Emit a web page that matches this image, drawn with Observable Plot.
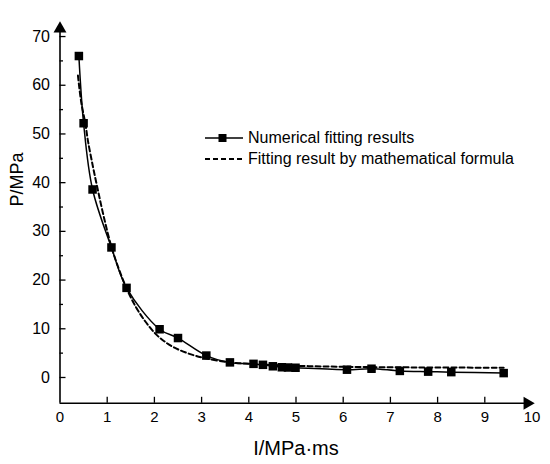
<!DOCTYPE html>
<html><head><meta charset="utf-8">
<script src="https://cdn.jsdelivr.net/npm/d3@7"></script>
<script src="https://cdn.jsdelivr.net/npm/@observablehq/plot@0.6"></script>
<style>
body{margin:0;background:#fff;font-family:"Liberation Sans",Arial,sans-serif}
#wrap{position:relative;width:550px;height:464px}
.leg{position:absolute;left:205px;display:flex;align-items:center;font-size:16px;color:#000;white-space:nowrap}
.leg svg{margin-right:5px}
</style>
</head><body><div id="wrap"></div>
<script>
// Numerical fitting results
const numI = [0.40, 0.50, 0.69, 1.09, 1.41, 2.11, 2.50, 3.10, 3.60, 4.10, 4.30, 4.51, 4.70, 4.83, 4.99, 6.08, 6.60, 7.20, 7.80, 8.29, 9.40];
const numP = [66.0, 52.2, 38.6, 26.7, 18.4, 9.9, 8.1, 4.5, 3.1, 2.8, 2.6, 2.3, 2.1, 2.05, 2.0, 1.6, 1.8, 1.35, 1.2, 1.1, 0.9];
// Fitting result by mathematical formula
const fitI = [0.38, 0.45, 0.54, 0.59, 0.70, 0.80, 0.93, 1.09, 1.25, 1.41, 1.60, 1.80, 2.02, 2.20, 2.41, 2.70, 3.05, 3.60, 4.00, 5.00, 6.00, 7.00, 8.00, 9.40];
const fitP = [62.0, 56.5, 52.0, 48.7, 43.2, 38.6, 32.9, 26.8, 22.2, 18.3, 14.6, 11.6, 9.0, 7.5, 6.2, 5.0, 4.0, 3.1, 2.8, 2.4, 2.2, 2.1, 2.05, 2.0];

const xTicks = [0, 1, 2, 3, 4, 5, 6, 7, 8, 9, 10];
const yTicks = [0, 10, 20, 30, 40, 50, 60, 70];
const yMinor = [5, 15, 25, 35, 45, 55, 65];
const seriesNames = ["Numerical fitting results", "Fitting result by mathematical formula"];
const xTitle = "I/MPa·ms";
const yTitle = "P/MPa";

const xDomain = [0, 10];
const yDomain = [-5.3, 73.5];
const xArrowAt = 9.9, yArrowAt = 71.6;

const W = 550, H = 464, mL = 59.5, mR = 18.5, mT = 19, mB = 61.2;
const innerW = W - mL - mR, innerH = H - mT - mB;
const xPerPx = (xDomain[1] - xDomain[0]) / innerW;
const yPerPx = (yDomain[1] - yDomain[0]) / innerH;

const num = numI.map((x, i) => ({x, y: numP[i]}));
const fit = fitI.map((x, i) => ({x, y: fitP[i]}));

const chart = Plot.plot({
  width: W, height: H,
  marginLeft: mL, marginRight: mR, marginTop: mT, marginBottom: mB,
  style: {fontSize: "15px", fontFamily: "Liberation Sans, Arial, sans-serif", color: "#000", background: "#fff"},
  x: {domain: xDomain, axis: null},
  y: {domain: yDomain, axis: null},
  marks: [
    // axis lines
    Plot.ruleY([yDomain[0]], {x1: xDomain[0], x2: xArrowAt, stroke: "#000", strokeWidth: 1.6}),
    Plot.ruleX([xDomain[0]], {y1: yDomain[0], y2: yArrowAt, stroke: "#000", strokeWidth: 1.6}),
    Plot.dot([{x: xArrowAt, y: yDomain[0]}], {x: "x", y: "y", symbol: "triangle", r: 4.8, rotate: 90, fill: "#000", stroke: null}),
    Plot.dot([{x: xDomain[0], y: yArrowAt}], {x: "x", y: "y", symbol: "triangle", r: 4.8, fill: "#000", stroke: null}),
    // inward ticks
    Plot.ruleX(xTicks.slice(1, -1), {x: d => d, y1: yDomain[0], y2: yDomain[0] + 6 * yPerPx, stroke: "#000", strokeWidth: 1.3}),
    Plot.ruleY(yTicks, {y: d => d, x1: xDomain[0], x2: xDomain[0] + 6 * xPerPx, stroke: "#000", strokeWidth: 1.3}),
    Plot.ruleY(yMinor, {y: d => d, x1: xDomain[0], x2: xDomain[0] + 3.5 * xPerPx, stroke: "#000", strokeWidth: 1.3}),
    // tick labels
    Plot.axisX(xTicks, {tickSize: 0, tickPadding: 8, label: null, fontSize: 15}),
    Plot.axisY(yTicks, {tickSize: 0, tickPadding: 10, label: null, fontSize: 16}),
    // titles
    Plot.text([xTitle], {frameAnchor: "bottom", dy: 45, fontSize: 20, lineAnchor: "middle", text: d => d}),
    Plot.text([yTitle], {frameAnchor: "left", dx: -43, dy: -5, rotate: -90, fontSize: 18, lineAnchor: "middle", text: d => d}),
    // data
    Plot.line(fit, {x: "x", y: "y", stroke: "#000", strokeWidth: 2, strokeDasharray: "5,3", curve: "catmull-rom"}),
    Plot.line(num, {x: "x", y: "y", stroke: "#000", strokeWidth: 1.5, curve: "catmull-rom"}),
    Plot.dot(num, {x: "x", y: "y", symbol: "square", r: 4.8, fill: "#000", stroke: null})
  ]
});

const wrap = document.getElementById("wrap");
wrap.appendChild(chart);

const legRows = [
  {name: seriesNames[0], top: 128, icon: '<svg width="38" height="20"><line x1="0" y1="10" x2="38" y2="10" stroke="#000" stroke-width="1.5"/><rect x="13.5" y="6" width="8" height="8" fill="#000"/></svg>'},
  {name: seriesNames[1], top: 149, icon: '<svg width="38" height="20"><line x1="0" y1="10" x2="38" y2="10" stroke="#000" stroke-width="2" stroke-dasharray="5,3"/></svg>'}
];
legRows.forEach(r => {
  const d = document.createElement("div");
  d.className = "leg";
  d.style.top = r.top + "px";
  d.innerHTML = r.icon + "<span>" + r.name + "</span>";
  wrap.appendChild(d);
});
</script>
</body></html>
